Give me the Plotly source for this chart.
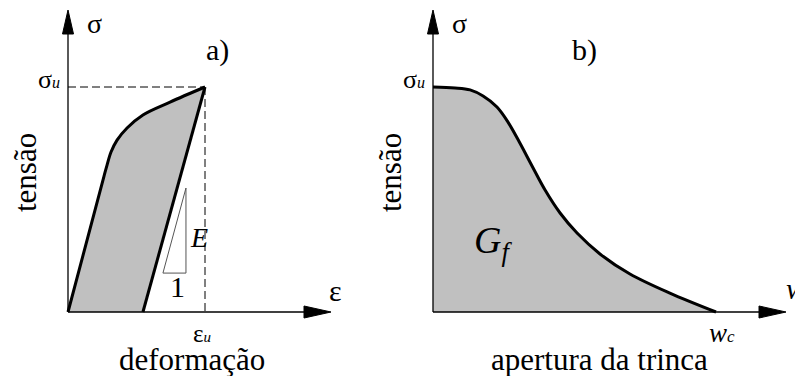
import plotly.graph_objects as go

# ---- data (normalized: strain by eps_u, opening by w_c, stress by sigma_u) ----
EPS_U = 1.0
SIG_U = 1.0
W_C = 1.0

# panel a: loading branch of the stress-strain curve
eps_load = [0.0, 0.263, 0.285, 0.314, 0.358, 0.431, 0.547, 0.745, 1.0]
sig_load = [0.0, 0.604, 0.653, 0.711, 0.764, 0.818, 0.876, 0.933, 1.0]
# panel a: elastic unloading branch (slope E)
eps_unload = [1.0, 0.547]
sig_unload = [1.0, 0.0]
# panel a: slope triangle "E / 1"
eps_tri = [0.693, 0.861, 0.861, 0.693]
sig_tri = [0.173, 0.173, 0.551, 0.173]

# panel b: softening curve sigma(w)
w_soft = [0.0, 0.078, 0.131, 0.177, 0.226, 0.265, 0.307, 0.350, 0.396,
          0.449, 0.509, 0.590, 0.696, 0.837, 1.0]
sig_soft = [1.0, 0.996, 0.987, 0.960, 0.911, 0.844, 0.751, 0.649, 0.542,
            0.440, 0.351, 0.258, 0.169, 0.084, 0.0]

# ---- page geometry (pixels) ----
W, H = 795, 376
OA_X, OB_X, O_Y = 68, 433, 312      # axis origins
SX_A, SX_B, SY = 137, 283, 225      # pixels per unit

FONT = "Liberation Serif"
GRAY = "#c0c0c0"

fig = go.Figure()


def line(x, y, axis, width=1.3, color="black", dash=None, shape="linear", **kw):
    fig.add_trace(go.Scatter(
        x=x, y=y, mode="lines", xaxis=axis, yaxis="y", hoverinfo="skip",
        line=dict(color=color, width=width, dash=dash, shape=shape), **kw))


def arrow_axes(axis, sx, x_tip_px, y_tip_px):
    """Axis lines with long filled arrowheads."""
    x_tip = x_tip_px / sx
    x_base = (x_tip_px - 27) / sx
    y_tip = y_tip_px / SY
    y_base = (y_tip_px - 24) / SY
    hx = 6 / SY
    hy = 5.5 / sx
    line([0, x_base], [0, 0], axis)
    line([0, 0], [0, y_base], axis)
    for xs, ys in (([x_base, x_tip, x_base, x_base], [-hx, 0, hx, -hx]),
                   ([-hy, 0, hy, -hy], [y_base, y_tip, y_base, y_base])):
        fig.add_trace(go.Scatter(
            x=xs, y=ys, mode="lines", fill="toself", fillcolor="black",
            xaxis=axis, yaxis="y", hoverinfo="skip",
            line=dict(color="black", width=1)))


# ---- panel a ----
line(eps_load, sig_load, "x", width=0, shape="spline",
     fill="tozeroy", fillcolor=GRAY)
line([eps_unload[0], eps_unload[1], eps_unload[0], eps_unload[0]],
     [sig_unload[0], sig_unload[1], 0, sig_unload[0]], "x", width=0,
     fill="toself", fillcolor="white")
line([0, EPS_U], [SIG_U, SIG_U], "x", width=1, dash="8px,4px")
line([EPS_U, EPS_U], [SIG_U, 0], "x", width=1, dash="8px,4px")
line(eps_tri, sig_tri, "x", width=1, color="#555555")
arrow_axes("x", SX_A, 331 - OA_X, O_Y - 10)
line(eps_load, sig_load, "x", width=3, shape="spline")
line(eps_unload, sig_unload, "x", width=3)

# ---- panel b ----
line(w_soft, sig_soft, "x2", width=0, shape="spline",
     fill="tozeroy", fillcolor=GRAY)
arrow_axes("x2", SX_B, 786 - OB_X, O_Y - 10)
line(w_soft, sig_soft, "x2", width=3, shape="spline")


# ---- labels ----
def label(text, x, y, size, xref="paper", yref="paper", xanchor="center",
          yanchor="middle", angle=0, xshift=0, yshift=0):
    fig.add_annotation(text=text, x=x, y=y, xref=xref, yref=yref,
                       xanchor=xanchor, yanchor=yanchor, textangle=angle,
                       xshift=xshift, yshift=yshift, showarrow=False,
                       font=dict(family=FONT, size=size, color="black"))


def px(xp):
    return xp / W


def py(yp):
    return 1 - yp / H


def small(t, size=15):
    return f"<span style='font-size:{size}px'><i>{t}</i></span>"


sig_u_txt = "σ" + small("u", 16)
for ox, tag in ((OA_X, "a)"), (OB_X, "b)")):
    label("σ", px(ox + 26), py(24), 28)
    label(tag, px(ox + 149 if tag == "a)" else ox + 151), py(50), 30)
    label(sig_u_txt, px(ox - 6), SIG_U, 26, yref="y", xanchor="right",
          yshift=8)
    label("tensão", px(ox - 43), py(173), 31, angle=-90)

label("<i>E</i>", px(199), py(237), 28)
label("1", px(177), py(286), 30)
label("ε", px(335), py(290), 30)
label("ε" + small("u"), EPS_U, 0, 25, xref="x", yref="y",
      yshift=-21, xshift=-3)
label("deformação", px(192), py(359), 31)

label("<i>G<sub>f</sub></i>", px(493), py(243), 38)
label("<i>w</i>", px(784), py(288), 30, xanchor="left")
label("<i>w</i>" + small("c", 17), W_C, 0, 27, xref="x2", yref="y",
      yshift=-21, xshift=6)
label("apertura da trinca", px(599), py(359), 31)

fig.update_layout(
    width=W, height=H, margin=dict(l=0, r=0, t=0, b=0),
    paper_bgcolor="white", plot_bgcolor="white", showlegend=False,
    font=dict(family=FONT),
    xaxis=dict(range=[-OA_X / SX_A, (W - OA_X) / SX_A], visible=False,
               domain=[0, 1]),
    xaxis2=dict(range=[-OB_X / SX_B, (W - OB_X) / SX_B], visible=False,
                overlaying="x", anchor="y"),
    yaxis=dict(range=[(O_Y - H) / SY, O_Y / SY], visible=False,
               domain=[0, 1]),
)

fig.write_html("out.html")
